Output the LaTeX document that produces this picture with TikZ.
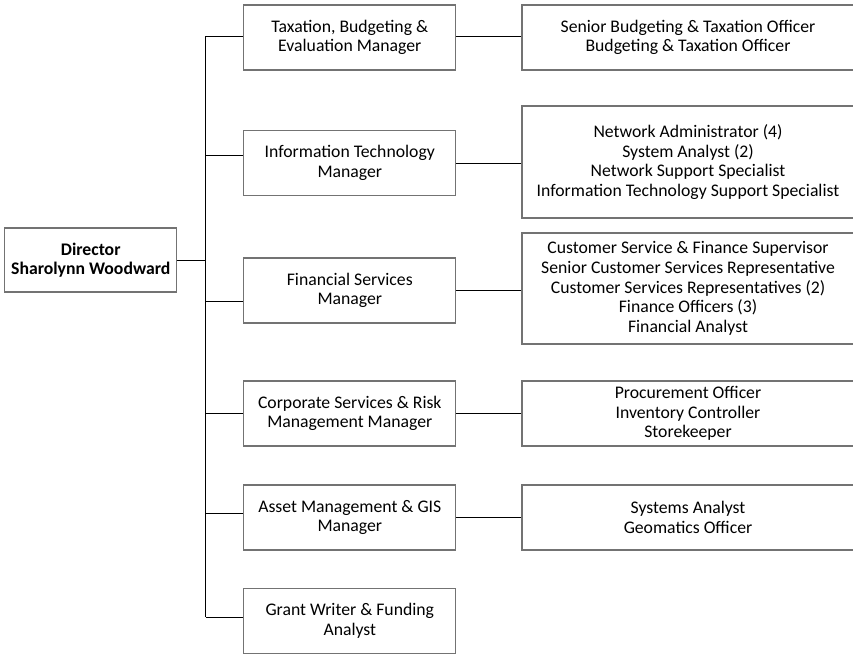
\documentclass[tikz,border=0pt]{standalone}
\usepackage{fontspec}
\setmainfont{Carlito}
\usetikzlibrary{positioning}

\begin{document}
\begin{tikzpicture}[x=1pt, y=1pt,
		box/.style={draw=black!55, line width=1.3pt, fill=white, align=center, inner sep=0pt,
			font=\fontsize{17.7}{19.6}\selectfont},
		mgr/.style={box, minimum width=212pt, minimum height=65pt},
		staff/.style={box, minimum width=332pt},
		link/.style={draw=black, line width=0.9pt}]
			\useasboundingbox (0,0) rectangle (853,-654);
			\node[box, minimum width=172pt, minimum height=64pt,
				font=\fontsize{17.7}{19.6}\selectfont\bfseries] (dir) at (90.7,-260) {Director\\Sharolynn Woodward};
			\node[mgr] (tbe) at (349.8,-37.5) {Taxation, Budgeting \&\\Evaluation Manager};
			\node[mgr] (itm) at (349.8,-163) {Information Technology\\Manager};
			\node[mgr] (fsm) at (349.8,-290.5) {Financial Services\\Manager};
			\node[mgr] (crm) at (349.8,-413.5) {Corporate Services \& Risk\\Management Manager};
			\node[mgr] (amg) at (349.8,-517.5) {Asset Management \& GIS\\Manager};
			\node[mgr] (gwf) at (349.8,-621) {Grant Writer \& Funding\\Analyst};
			\node[staff, minimum height=65pt] (tbeStaff) at (688,-37.5)
				{Senior Budgeting \& Taxation Officer\\Budgeting \& Taxation Officer};
			\node[staff, minimum height=112pt] (itmStaff) at (688,-162)
				{Network Administrator (4)\\System Analyst (2)\\Network Support Specialist\\Information Technology Support Specialist};
			\node[staff, minimum height=111pt] (fsmStaff) at (688,-288.5)
				{Customer Service \& Finance Supervisor\\Senior Customer Services Representative\\Customer Services Representatives (2)\\Finance Officers (3)\\Financial Analyst};
			\node[staff, minimum height=65pt] (crmStaff) at (688,-413.5)
				{Procurement Officer\\Inventory Controller\\Storekeeper};
			\node[staff, minimum height=65pt] (amgStaff) at (688,-517.5)
				{Systems Analyst\\Geomatics Officer};
			% spine
			\coordinate (top) at (205.5,-36);
			\coordinate (bottom) at (205.5,-617);
			\draw[link] (top) -- (bottom);
			\draw[link] (dir.east) -- (dir.east -| top);
			\draw[link] (top) -- (top -| tbe.west);
			\draw[link] (205.5,-155.7) -- (itm.west |- 0,-155.7);
			\draw[link] (205.5,-301.7) -- (fsm.west |- 0,-301.7);
			\draw[link] (205.5,-413) -- (crm.west |- 0,-413);
			\draw[link] (205.5,-513) -- (amg.west |- 0,-513);
			\draw[link] (bottom) -- (bottom -| gwf.west);
			% staff links
			\draw[link] (tbe.east |- top) -- (tbeStaff.west |- top);
			\draw[link] (itm.east) -- (itm.east -| itmStaff.west);
			\draw[link] (fsm.east) -- (fsm.east -| fsmStaff.west);
			\draw[link] (crm.east) -- (crm.east -| crmStaff.west);
			\draw[link] (amg.east) -- (amg.east -| amgStaff.west);
		\end{tikzpicture}
\end{document}
